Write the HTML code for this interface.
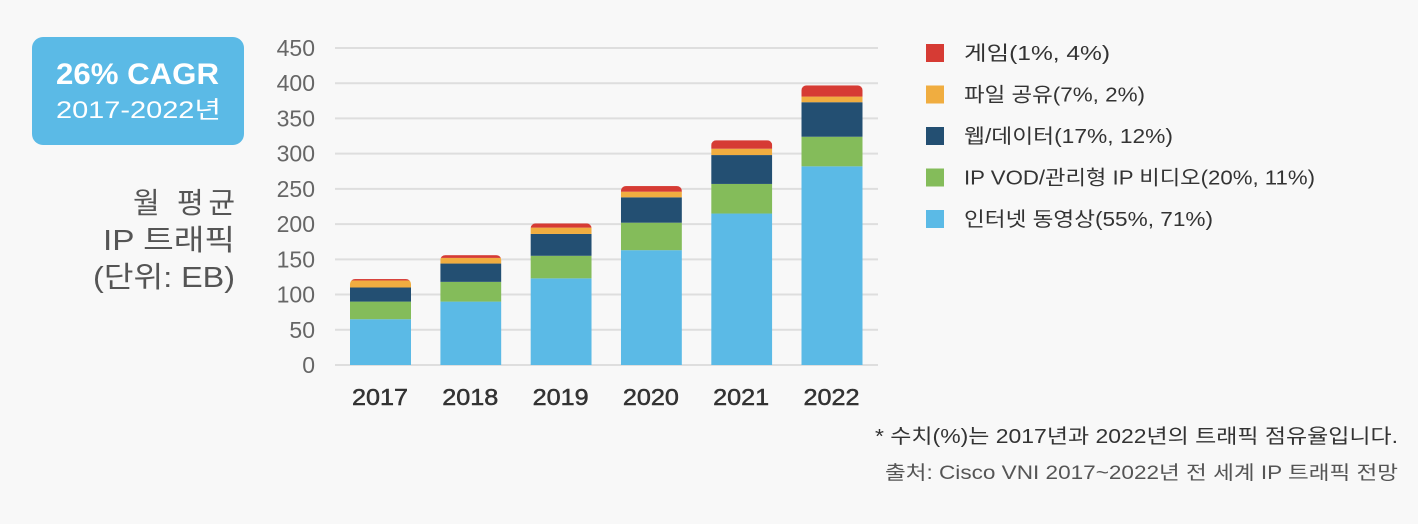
<!DOCTYPE html>
<html><head><meta charset="utf-8"><style>
body{margin:0;background:#f8f8f8;width:1418px;height:524px;overflow:hidden;font-family:"Liberation Sans","Noto Sans CJK KR",sans-serif}
svg{position:absolute;left:0;top:0}
</style></head><body>
<svg width="1418" height="524" font-family="Liberation Sans, Noto Sans CJK KR, sans-serif">
<rect x="32" y="37" width="212" height="108" rx="11" fill="#5bbae6"/>
<text x="56" y="84" textLength="163" lengthAdjust="spacingAndGlyphs" fill="#fff" font-size="30" font-weight="bold">26% CAGR</text>
<text x="56" y="118" textLength="165" lengthAdjust="spacingAndGlyphs" fill="#fff" font-size="24">2017-2022년</text>
<g fill="#555" font-size="29">
<text x="133" y="213" textLength="102" lengthAdjust="spacing">월 평균</text><text x="103" y="250" textLength="132" lengthAdjust="spacingAndGlyphs">IP 트래픽</text><text x="93" y="287" textLength="142" lengthAdjust="spacingAndGlyphs">(단위: EB)</text></g>
<g id="grid"></g><g id="bars"></g><g id="legend"></g>
<text x="875" y="443" textLength="523" lengthAdjust="spacingAndGlyphs" fill="#333" font-size="20">* 수치(%)는 2017년과 2022년의 트래픽 점유율입니다.</text>
<text x="885" y="479" textLength="513" lengthAdjust="spacingAndGlyphs" fill="#555" font-size="19">출처: Cisco VNI 2017~2022년 전 세계 IP 트래픽 전망</text>
</svg>
<script>
const years=["2017","2018","2019","2020","2021","2022"];
const video=[65,90,123,163,215,282];
const vod=[25,28,32,39,42,42];
const web=[20,26,31,36,41,49];
const file=[10,8,9,8,9,8];
const game=[2,4,6,8,12,16];
const ticks=[0,50,100,150,200,250,300,350,400,450];
const legendLabels=["게임(1%, 4%)","파일 공유(7%, 2%)","웹/데이터(17%, 12%)","IP VOD/관리형 IP 비디오(20%, 11%)","인터넷 동영상(55%, 71%)"];
const legendW=[146,181,209,351,249];
const NS="http://www.w3.org/2000/svg";
const y=v=>365-v*0.7045;
const x=i=>350+i*90.3;
function mk(t,a,p){const e=document.createElementNS(NS,t);for(const k in a)e.setAttribute(k,a[k]);p.appendChild(e);return e;}
const g=document.getElementById('grid');
ticks.forEach(t=>{
 const l=mk('line',{x1:335,x2:878,y1:y(t),y2:y(t),stroke:'#dedede','stroke-width':2},g);
 
 
 const tx=mk('text',{x:315,y:y(t)+8,'text-anchor':'end',fill:'#666','font-size':23},g);tx.textContent=t;
 
 
});
const series=[[video,'#5bbae6','video'],[vod,'#84bc5a','vod'],[web,'#234f72','web'],[file,'#f0ad40','file'],[game,'#d63b34','game']];
const b=document.getElementById('bars');
years.forEach((yr,i)=>{
 let acc=0;const W=61;
 const total=video[i]+vod[i]+web[i]+file[i]+game[i];
 const cp=mk('clipPath',{id:'c'+i},b);
 mk('rect',{x:x(i),y:y(total),width:W,height:y(0)-y(total)+6,rx:5},cp);
 const grp=mk('g',{'clip-path':'url(#c'+i+')'},b);
 series.forEach(([arr,c,n])=>{
  const r=mk('rect',{x:x(i),y:y(acc+arr[i]),width:W,height:y(acc)-y(acc+arr[i]),fill:c},grp);
  
  
  acc+=arr[i];
 });
 const t=mk('text',{x:x(i)+2,y:405,textLength:56,lengthAdjust:'spacingAndGlyphs',fill:'#333','font-size':23,stroke:'#333','stroke-width':0.5},b);t.textContent=yr;
 
 
});
const lg=document.getElementById('legend');
const lc=['#d63b34','#f0ad40','#234f72','#84bc5a','#5bbae6'];
legendLabels.forEach((s,i)=>{
 const cy=53+i*41.5;
 const e=mk('g',{},lg);
 
 
 mk('rect',{x:926,y:cy-9,width:18,height:18,fill:lc[i]},e);
 const t=mk('text',{x:964,y:cy+7,fill:'#333','font-size':20,textLength:legendW[i],lengthAdjust:'spacingAndGlyphs'},e);t.textContent=s;
});
</script>
</body></html>
